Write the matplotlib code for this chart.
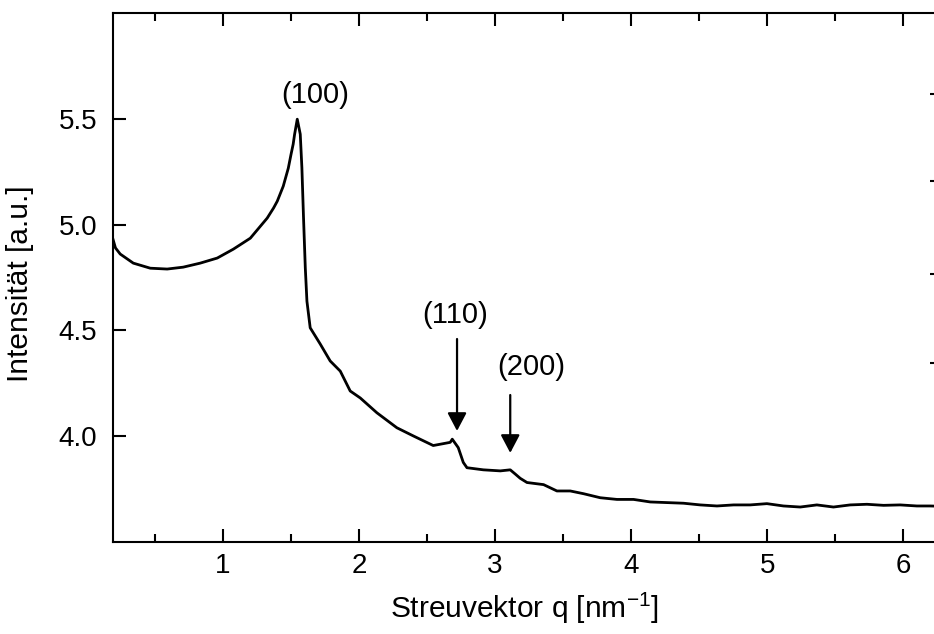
import matplotlib
matplotlib.use("Agg")
import matplotlib.pyplot as plt

plt.rcParams['font.family'] = ['Liberation Sans', 'DejaVu Sans']
plt.rcParams['mathtext.fontset'] = 'custom'
plt.rcParams['mathtext.rm'] = 'Liberation Sans'

# Streukurve
q = [0.19, 0.21, 0.245, 0.341, 0.466, 0.590, 0.708, 0.833, 0.958, 1.076,
     1.201, 1.325, 1.372, 1.399, 1.443, 1.480, 1.50, 1.516, 1.526, 1.546,
     1.568, 1.580, 1.592, 1.605, 1.617, 1.641, 1.715, 1.788, 1.862, 1.935,
     2.009, 2.131, 2.278, 2.40, 2.545, 2.670, 2.685, 2.729, 2.766, 2.793,
     2.913, 3.038, 3.111, 3.148, 3.184, 3.234, 3.356, 3.454, 3.552, 3.650,
     3.772, 3.895, 4.017, 4.140, 4.262, 4.384, 4.507, 4.630, 4.752, 4.874,
     4.997, 5.119, 5.242, 5.364, 5.486, 5.609, 5.732, 5.854, 5.976, 6.099,
     6.197, 6.25]
intensity = [4.935, 4.89, 4.861, 4.818, 4.794, 4.790, 4.799, 4.818, 4.842, 4.884,
             4.936, 5.031, 5.079, 5.111, 5.182, 5.267, 5.332, 5.381, 5.426, 5.499,
             5.428, 5.269, 5.032, 4.796, 4.638, 4.512, 4.435, 4.355, 4.307, 4.213,
             4.180, 4.110, 4.039, 4.00, 3.955, 3.97, 3.985, 3.945, 3.875, 3.85,
             3.84, 3.835, 3.84, 3.82, 3.80, 3.78, 3.77, 3.74, 3.74, 3.727,
             3.708, 3.70, 3.70, 3.688, 3.685, 3.682, 3.674, 3.669, 3.674, 3.674,
             3.68, 3.669, 3.664, 3.674, 3.664, 3.674, 3.677, 3.672, 3.674, 3.669,
             3.669, 3.668]

# Reflexe: (Label, Textposition, Pfeilanfang, Pfeilspitze)
peak_labels = ['(100)', '(110)', '(200)']
label_pos = [(1.678, 5.612), (2.706, 4.572), (3.265, 4.326)]
arrow_from = [None, (2.720, 4.459), (3.111, 4.194)]
arrow_to = [None, (2.720, 4.024), (3.111, 3.920)]

fig = plt.figure(figsize=(9.34, 6.34), dpi=100)
ax = fig.add_axes([0.1207, 0.1456, 0.8815, 0.8334])

ax.plot(q, intensity, color='black', lw=2.0)

for lab, pos, a0, a1 in zip(peak_labels, label_pos, arrow_from, arrow_to):
    ax.text(pos[0], pos[1], lab, fontsize=21, ha='center', va='center')
    if a0 is not None:
        ax.annotate('', xy=a1, xytext=a0,
                    arrowprops=dict(arrowstyle='-|>,head_length=0.55,head_width=0.29',
                                    mutation_scale=20, lw=1.6, color='black',
                                    shrinkA=0, shrinkB=0))

ax.set_xlim(0.19, 6.24)
ax.set_ylim(3.5, 6.0)
ax.set_xticks([1, 2, 3, 4, 5, 6])
ax.set_xticks([0.5, 1.5, 2.5, 3.5, 4.5, 5.5], minor=True)
ax.set_yticks([4.0, 4.5, 5.0, 5.5])
ax.set_yticklabels(['4.0', '4.5', '5.0', '5.5'])

ax.tick_params(axis='x', which='major', direction='in', length=9.5, width=1.5,
               top=True, labelsize=20, pad=8)
ax.tick_params(axis='x', which='minor', direction='in', length=6, width=1.5, top=True)
ax.tick_params(axis='y', which='major', direction='in', length=9.5, width=1.5,
               right=False, labelsize=20, pad=11)
for s in ax.spines.values():
    s.set_linewidth(1.5)

# rechte Achse mit eigenen kleinen Strichen
ax2 = ax.twinx()
ax2.set_ylim(0, 1)
ax2.set_yticks([0.338, 0.506, 0.683, 0.847])
ax2.set_yticklabels([])
ax2.tick_params(axis='y', direction='in', length=4.5, width=1.5)
for s in ax2.spines.values():
    s.set_visible(False)

ax.set_xlabel('Streuvektor q [nm$^{\\mathregular{-1}}$]', fontsize=21.5)
ax.set_ylabel('Intensität [a.u.]', fontsize=21.5)
ax.xaxis.set_label_coords(0.5, -0.0914)
ax.yaxis.set_label_coords(-0.0956, 0.4877)

fig.savefig('out.png', dpi=100)
